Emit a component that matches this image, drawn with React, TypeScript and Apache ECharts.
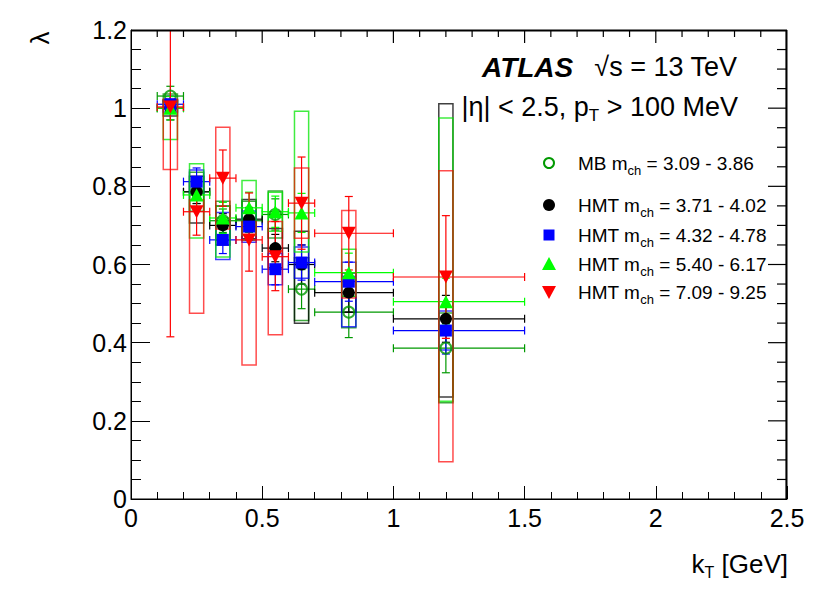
import React, { useEffect, useRef } from "react";
import * as echarts from "echarts";

// kT bin centres and bin edges (GeV)
const kT = [0.15, 0.25, 0.35, 0.45, 0.55, 0.65, 0.83, 1.2];
const binLo = [0.1, 0.2, 0.3, 0.4, 0.5, 0.6, 0.7, 1.0];
const binHi = [0.2, 0.3, 0.4, 0.5, 0.6, 0.7, 1.0, 1.5];

// MB m_ch = 3.09 - 3.86
const mbVal = [1.031, 0.786, 0.712, 0.712, 0.728, 0.537, 0.478, 0.386];
const mbStatLo = [0.025, 0.03, 0.03, 0.03, 0.04, 0.05, 0.065, 0.063];
const mbStatHi = [0.025, 0.03, 0.03, 0.03, 0.04, 0.05, 0.065, 0.063];
const mbSystLo = [0.015, 0.05, 0.05, 0.05, 0.06, 0.08, 0.04, 0.14];
const mbSystHi = [0.005, 0.05, 0.05, 0.05, 0.06, 0.08, 0.04, 0.09];

// HMT m_ch = 3.71 - 4.02
const h1Val = [1.0, 0.786, 0.7, 0.716, 0.642, 0.6, 0.528, 0.461];
const h1StatLo = [0.03, 0.03, 0.03, 0.03, 0.035, 0.05, 0.05, 0.06];
const h1StatHi = [0.03, 0.03, 0.03, 0.03, 0.035, 0.05, 0.05, 0.06];
const h1SystLo = [0.02, 0.08, 0.05, 0.05, 0.05, 0.15, 0.05, 0.2];
const h1SystHi = [0.02, 0.04, 0.05, 0.05, 0.05, 0.085, 0.05, 0.55];

// HMT m_ch = 4.32 - 4.78
const h2Val = [1.01, 0.812, 0.663, 0.697, 0.588, 0.605, 0.556, 0.431];
const h2StatLo = [0.02, 0.035, 0.035, 0.035, 0.04, 0.045, 0.05, 0.06];
const h2StatHi = [0.02, 0.035, 0.035, 0.035, 0.04, 0.045, 0.05, 0.06];
const h2SystLo = [0.02, 0.03, 0.05, 0.04, 0.04, 0.04, 0.115, 0.05];
const h2SystHi = [0.01, 0.03, 0.07, 0.04, 0.04, 0.04, 0.05, 0.05];

// HMT m_ch = 5.40 - 6.17
const h3Val = [1.0, 0.778, 0.719, 0.745, 0.735, 0.732, 0.579, 0.505];
const h3StatLo = [0.03, 0.035, 0.04, 0.04, 0.04, 0.05, 0.05, 0.06];
const h3StatHi = [0.03, 0.035, 0.04, 0.04, 0.04, 0.05, 0.05, 0.06];
const h3SystLo = [0.08, 0.11, 0.1, 0.07, 0.05, 0.1, 0.06, 0.255];
const h3SystHi = [0.02, 0.08, 0.03, 0.07, 0.05, 0.26, 0.06, 0.47];

// HMT m_ch = 7.09 - 9.25
const h4Val = [1.003, 0.735, 0.821, 0.663, 0.62, 0.757, 0.68, 0.568];
const h4StatLo = [0.588, 0.06, 0.072, 0.08, 0.087, 0.118, 0.094, 0.157];
const h4StatHi = [0.6, 0.06, 0.072, 0.12, 0.09, 0.118, 0.094, 0.157];
const h4SystLo = [0.16, 0.26, 0.13, 0.32, 0.2, 0.09, 0.166, 0.473];
const h4SystHi = [0.02, 0.03, 0.13, 0.047, 0.09, 0.09, 0.058, 0.272];

const xTicks = [0, 0.5, 1, 1.5, 2, 2.5];
const yTicks = [0, 0.2, 0.4, 0.6, 0.8, 1, 1.2];
const X_MINOR = 0.1;
const Y_MINOR = 0.05;

const legendLabels = [
  { pre: "MB m", sub: "ch", post: " = 3.09 - 3.86" },
  { pre: "HMT m", sub: "ch", post: " = 3.71 - 4.02" },
  { pre: "HMT m", sub: "ch", post: " = 4.32 - 4.78" },
  { pre: "HMT m", sub: "ch", post: " = 5.40 - 6.17" },
  { pre: "HMT m", sub: "ch", post: " = 7.09 - 9.25" },
];

const FONT = "'Liberation Sans', Arial, Helvetica, sans-serif";
const GRID = { left: 131, top: 30, width: 656, height: 469 };

type Def = {
  val: number[]; sLo: number[]; sHi: number[]; lo: number[]; hi: number[];
  color: string; boxColor: string; symbol: string; size: number | number[]; rotate: number; open: boolean;
};

const defs: Def[] = [
  { val: mbVal, sLo: mbStatLo, sHi: mbStatHi, lo: mbSystLo, hi: mbSystHi, color: "#009900", boxColor: "rgba(0,140,0,0.75)", symbol: "circle", size: 11, rotate: 0, open: true },
  { val: h1Val, sLo: h1StatLo, sHi: h1StatHi, lo: h1SystLo, hi: h1SystHi, color: "#000000", boxColor: "rgba(0,0,0,0.75)", symbol: "circle", size: 12, rotate: 0, open: false },
  { val: h2Val, sLo: h2StatLo, sHi: h2StatHi, lo: h2SystLo, hi: h2SystHi, color: "#0000ff", boxColor: "rgba(0,0,255,0.75)", symbol: "rect", size: 12, rotate: 0, open: false },
  { val: h3Val, sLo: h3StatLo, sHi: h3StatHi, lo: h3SystLo, hi: h3SystHi, color: "#00ff00", boxColor: "rgba(0,230,0,0.75)", symbol: "triangle", size: [14, 13], rotate: 0, open: false },
  { val: h4Val, sLo: h4StatLo, sHi: h4StatHi, lo: h4SystLo, hi: h4SystHi, color: "#ff0000", boxColor: "rgba(255,0,0,0.7)", symbol: "triangle", size: [14, 13], rotate: 180, open: false },
];

const BOX_HW = 0.027;

function buildSeries() {
  const series: any[] = [];
  defs.forEach((d, si) => {
    const boxData = kT.map((x, i) => [x, d.val[i] - d.lo[i], d.val[i] + d.hi[i]]);
    const errData = kT.map((x, i) => [x, d.val[i], binLo[i], binHi[i], d.val[i] - d.sLo[i], d.val[i] + d.sHi[i]]);
    series.push({
      type: "custom",
      name: "box" + si,
      clip: true,
      data: boxData,
      encode: { x: 0, y: [1, 2] },
      renderItem: (params: any, api: any) => {
        const x = api.value(0);
        const p1 = api.coord([x - BOX_HW, api.value(2)]);
        const p2 = api.coord([x + BOX_HW, api.value(1)]);
        return {
          type: "rect",
          shape: { x: p1[0], y: p1[1], width: p2[0] - p1[0], height: p2[1] - p1[1] },
          style: { fill: "none", stroke: d.boxColor, lineWidth: 1.5 },
        };
      },
    });
    series.push({
      type: "custom",
      name: "err" + si,
      clip: true,
      data: errData,
      encode: { x: [0, 2, 3], y: [1, 4, 5] },
      renderItem: (params: any, api: any) => {
        const x = api.value(0), y = api.value(1);
        const c = api.coord([x, y]);
        const l = api.coord([api.value(2), y]);
        const r = api.coord([api.value(3), y]);
        const b = api.coord([x, api.value(4)]);
        const t = api.coord([x, api.value(5)]);
        const cap = 4;
        const mk = () => ({ stroke: d.color, lineWidth: 1.2 });
        return {
          type: "group",
          children: [
            { type: "line", shape: { x1: l[0], y1: c[1], x2: r[0], y2: c[1] }, style: mk() },
            { type: "line", shape: { x1: l[0], y1: c[1] - cap, x2: l[0], y2: c[1] + cap }, style: mk() },
            { type: "line", shape: { x1: r[0], y1: c[1] - cap, x2: r[0], y2: c[1] + cap }, style: mk() },
            { type: "line", shape: { x1: c[0], y1: b[1], x2: c[0], y2: t[1] }, style: mk() },
            { type: "line", shape: { x1: c[0] - cap, y1: b[1], x2: c[0] + cap, y2: b[1] }, style: mk() },
            { type: "line", shape: { x1: c[0] - cap, y1: t[1], x2: c[0] + cap, y2: t[1] }, style: mk() },
          ],
        };
      },
    });
    series.push({
      type: "scatter",
      name: "pt" + si,
      data: kT.map((x, i) => [x, d.val[i]]),
      symbol: d.symbol,
      symbolSize: d.size,
      symbolRotate: d.rotate,
      itemStyle: d.open
        ? { color: "rgba(0,0,0,0)", borderColor: d.color, borderWidth: 2 }
        : { color: d.color, opacity: 1 },
      emphasis: { disabled: true },
    });
  });
  return series;
}

function legendGraphics() {
  const mx = 549;
  const rowsY = [163, 205, 235, 264, 292];
  const tx = 578;
  const els: any[] = [];
  els.push({ type: "circle", shape: { cx: mx, cy: rowsY[0], r: 5 }, style: { fill: "none", stroke: defs[0].color, lineWidth: 2 } });
  els.push({ type: "circle", shape: { cx: mx, cy: rowsY[1], r: 6 }, style: { fill: defs[1].color } });
  els.push({ type: "rect", shape: { x: mx - 5.5, y: rowsY[2] - 5.5, width: 11, height: 11 }, style: { fill: defs[2].color } });
  els.push({ type: "polygon", shape: { points: [[mx, rowsY[3] - 7], [mx + 7, rowsY[3] + 6], [mx - 7, rowsY[3] + 6]] }, style: { fill: defs[3].color } });
  els.push({ type: "polygon", shape: { points: [[mx - 7, rowsY[4] - 6], [mx + 7, rowsY[4] - 6], [mx, rowsY[4] + 7]] }, style: { fill: defs[4].color } });
  legendLabels.forEach((lb, i) => {
    els.push({
      type: "text",
      x: tx,
      y: rowsY[i],
      style: {
        text: lb.pre + "{sub|" + lb.sub + "}" + lb.post,
        fill: "#000",
        fontSize: 19,
        fontFamily: FONT,
        textAlign: "left",
        textVerticalAlign: "middle",
        rich: { sub: { fontSize: 13, fontFamily: FONT, fill: "#000", padding: [14, 0, 0, 0] } },
      },
    });
  });
  return els;
}

// top and right frame edges with inward ticks (mirror of the bottom/left axes)
function frameGraphics() {
  const xMax = xTicks[xTicks.length - 1];
  const yMax = yTicks[yTicks.length - 1];
  const x0 = GRID.left, y0 = GRID.top, x1 = GRID.left + GRID.width, y1 = GRID.top + GRID.height;
  const st = { stroke: "#000000", lineWidth: 1.6 };
  const els: any[] = [
    { type: "rect", z: 100, shape: { x: x0, y: y0, width: GRID.width, height: 1.6 }, style: { fill: "#000000" } },
    { type: "rect", z: 100, shape: { x: x1 - 1.6, y: y0, width: 1.6, height: GRID.height }, style: { fill: "#000000" } },
  ];
  const nx = Math.round(xMax / X_MINOR);
  for (let k = 1; k < nx; k++) {
    const xx = x0 + (k * X_MINOR / xMax) * GRID.width;
    const len = k % 5 === 0 ? 13 : 7;
    els.push({ type: "rect", z: 100, shape: { x: xx - 0.6, y: y0, width: 1.2, height: len }, style: { fill: "#000000" } });
  }
  const ny = Math.round(yMax / Y_MINOR);
  for (let k = 1; k < ny; k++) {
    const yy = y1 - (k * Y_MINOR / yMax) * GRID.height;
    const len = k % 4 === 0 ? 19 : 10;
    els.push({ type: "rect", z: 100, shape: { x: x1 - len, y: yy - 0.6, width: len, height: 1.2 }, style: { fill: "#000000" } });
  }
  void st;
  return els;
}

const textGraphics = [
  {
    type: "text",
    x: 40,
    y: 38,
    rotation: Math.PI / 2,
    style: { text: "λ", fill: "#000", fontSize: 26, fontFamily: FONT, textAlign: "center", textVerticalAlign: "middle" },
  },
  {
    type: "text",
    x: 788,
    y: 564,
    style: {
      text: "k{sub|T} [GeV]",
      fill: "#000",
      fontSize: 26,
      fontFamily: FONT,
      textAlign: "right",
      textVerticalAlign: "middle",
      rich: { sub: { fontSize: 16, fontFamily: FONT, fill: "#000", padding: [17, 0, 0, 0] } },
    },
  },
  {
    type: "text",
    x: 482,
    y: 67,
    style: {
      text: "ATLAS",
      fill: "#000",
      fontSize: 28,
      fontWeight: "bold",
      fontStyle: "italic",
      fontFamily: FONT,
      textAlign: "left",
      textVerticalAlign: "middle",
    },
  },
  {
    type: "text",
    x: 737,
    y: 67,
    style: { text: "√s = 13 TeV", fill: "#000", fontSize: 27, fontFamily: FONT, textAlign: "right", textVerticalAlign: "middle" },
  },
  {
    type: "text",
    x: 738,
    y: 107,
    style: {
      text: "|η| < 2.5, p{sub|T} > 100 MeV",
      fill: "#000",
      fontSize: 27,
      fontFamily: FONT,
      textAlign: "right",
      textVerticalAlign: "middle",
      rich: { sub: { fontSize: 17, fontFamily: FONT, fill: "#000", padding: [17, 0, 0, 0] } },
    },
  },
];

export default function App() {
  const ref = useRef<HTMLDivElement>(null);
  useEffect(() => {
    if (!ref.current) return;
    const chart = echarts.init(ref.current, null, { renderer: "svg" });
    chart.setOption({
      animation: false,
      backgroundColor: "#fff",
      grid: { ...GRID, show: true, borderColor: "#000", borderWidth: 1, backgroundColor: "rgba(0,0,0,0)" },
      xAxis: {
        type: "value",
        min: 0,
        max: xTicks[xTicks.length - 1],
        interval: 0.5,
        axisLine: { show: true, onZero: false, lineStyle: { color: "#000", width: 1 } },
        splitLine: { show: false },
        minorSplitLine: { show: false },
        axisTick: { show: true, inside: true, length: 13, lineStyle: { color: "#000" } },
        minorTick: { show: true, splitNumber: 5, length: 7, lineStyle: { color: "#000" } },
        axisLabel: { color: "#000", fontSize: 25, fontFamily: FONT, margin: 6 },
      },
      yAxis: {
        type: "value",
        min: 0,
        max: yTicks[yTicks.length - 1],
        interval: 0.2,
        axisLine: { show: true, onZero: false, lineStyle: { color: "#000", width: 1 } },
        splitLine: { show: false },
        minorSplitLine: { show: false },
        axisTick: { show: true, inside: true, length: 19, lineStyle: { color: "#000" } },
        minorTick: { show: true, splitNumber: 4, length: 10, lineStyle: { color: "#000" } },
        axisLabel: { color: "#000", fontSize: 25, fontFamily: FONT, margin: 4 },
      },
      series: buildSeries(),
      graphic: [...textGraphics, ...legendGraphics(), ...frameGraphics()],
    });
    return () => chart.dispose();
  }, []);
  return <div ref={ref} style={{ position: "fixed", left: 0, top: 0, width: 830, height: 596, background: "#fff" }} />;
}
